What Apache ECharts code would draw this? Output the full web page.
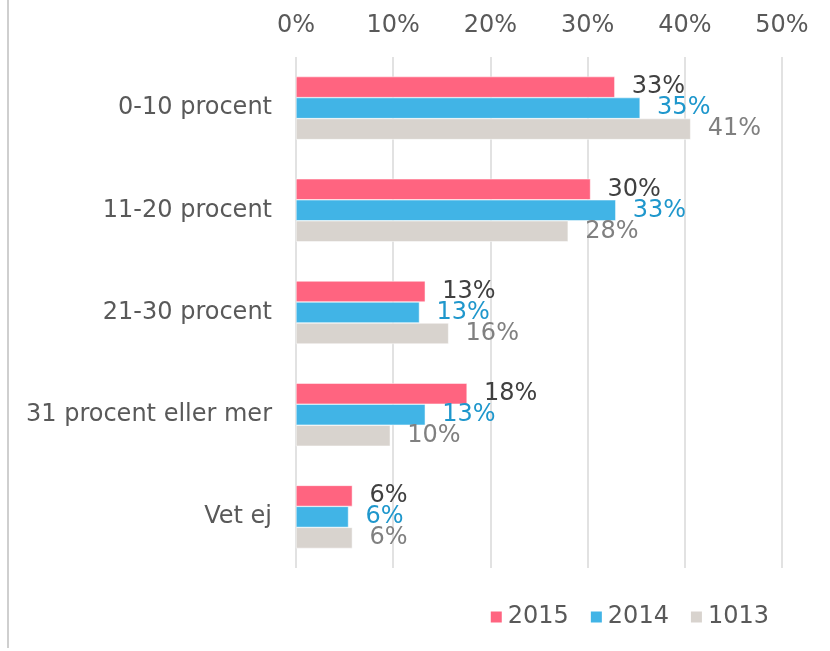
<!DOCTYPE html>
<html><head><meta charset="utf-8">
<script src="https://cdn.jsdelivr.net/npm/echarts@6/dist/echarts.min.js"></script>
<style>html,body{margin:0;padding:0;background:#fff}#c{width:830px;height:651px}</style>
</head><body><div id="c"></div>
<script>
const categories = ['0-10 procent', '11-20 procent', '21-30 procent', '31 procent eller mer', 'Vet ej'];
const s2015 = [32.8, 30.3, 13.3, 17.6, 5.8];
const s2014 = [35.4, 32.9, 12.7, 13.3, 5.4];
const s1013 = [40.6, 28.0, 15.7, 9.7, 5.8];
const labels2015 = ['33%', '30%', '13%', '18%', '6%'];
const labels2014 = ['35%', '33%', '13%', '13%', '6%'];
const labels1013 = ['41%', '28%', '16%', '10%', '6%'];
const seriesNames = ['2015', '2014', '1013'];
const xTicks = [0, 10, 20, 30, 40, 50];

const font = 'DejaVu Sans, Verdana, sans-serif';
const fs = 24;
function mk(name, data, labels, color, labelColor) {
  return {
    name, type: 'bar', data, barWidth: 21, barGap: '0%',
    itemStyle: { color, borderColor: '#fff', borderWidth: 0.5 },
    label: { show: true, position: 'right', distance: 17, color: labelColor,
      fontFamily: font, fontSize: fs, formatter: p => labels[p.dataIndex] }
  };
}
const chart = echarts.init(document.getElementById('c'), null, { renderer: 'canvas' });
chart.setOption({
  animation: false,
  backgroundColor: '#fff',
  grid: { left: 296, right: 48, top: 57, bottom: 83, containLabel: false },
  xAxis: {
    type: 'value', position: 'top', min: xTicks[0], max: xTicks[xTicks.length - 1], interval: 10,
    axisLine: { show: false }, axisTick: { show: false },
    splitLine: { lineStyle: { color: '#D9D9D9', width: 1.5 } },
    axisLabel: { formatter: v => v + '%', color: '#595959', fontFamily: font, fontSize: fs, margin: 19 }
  },
  yAxis: {
    type: 'category', data: categories, inverse: true,
    axisLine: { show: false }, axisTick: { show: false },
    axisLabel: { color: '#595959', fontFamily: font, fontSize: fs, margin: 24 }
  },
  legend: {
    bottom: 17, right: 56, itemWidth: 13, itemHeight: 13, itemGap: 20,
    icon: 'rect',
    textStyle: { color: '#595959', fontFamily: font, fontSize: fs, padding: [0, 0, 0, 0] },
    data: seriesNames
  },
  graphic: [{ type: 'line', shape: { x1: 8, y1: 0, x2: 8, y2: 648 }, style: { stroke: '#BFBFBF', lineWidth: 1.5 } }],
  series: [
    mk(seriesNames[0], s2015, labels2015, '#FF6480', '#404040'),
    mk(seriesNames[1], s2014, labels2014, '#41B4E6', '#1F97CC'),
    mk(seriesNames[2], s1013, labels1013, '#D8D3CE', '#808080')
  ]
});
</script></body></html>
